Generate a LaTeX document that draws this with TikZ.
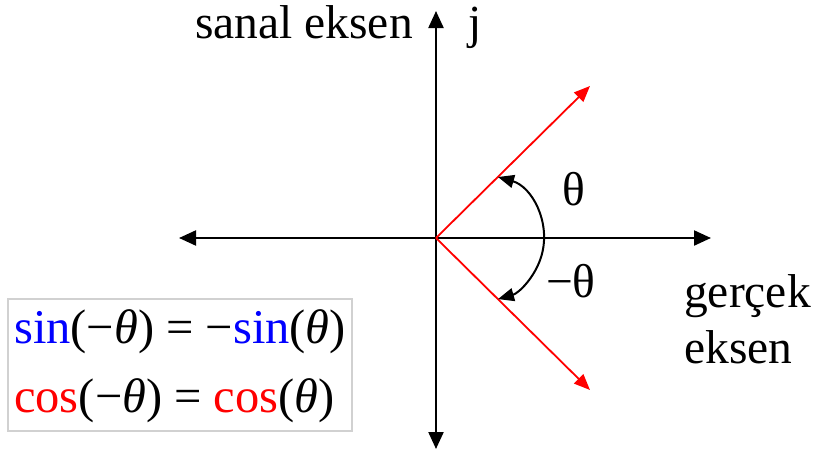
\documentclass[tikz,border=0pt]{standalone}
\usepackage{fontspec}
\setmainfont{Liberation Serif}
\usetikzlibrary{arrows.meta}
\begin{document}
\begin{tikzpicture}[x=1pt,y=-1pt,
  axis/.style={line width=2.2pt,-{Triangle[length=17pt,width=15pt]}},
  vec/.style={red,line width=1.8pt,-{Triangle[length=16pt,width=13pt]}},
  anglearc/.style={line width=2pt,{Triangle[length=16pt,width=13pt]}-{Triangle[length=16pt,width=13pt]}},
  lbl/.style={font=\fontsize{47.5}{56}\selectfont,inner sep=0pt},
  eqtxt/.style={font=\fontsize{48.5}{56}\selectfont,inner sep=0pt},
  eqbox/.style={draw=black!18,line width=1.8pt,minimum width=344pt,minimum height=132pt,inner sep=0pt}]
\useasboundingbox (0,0) rectangle (815,450);
\fill[white] (0,0) rectangle (815,450);
\coordinate (O) at (436,238);
\coordinate (top) at (436,11);
\coordinate (bot) at (436,449);
\coordinate (left) at (179,238);
\coordinate (right) at (711,238);
\coordinate (v1) at (590,86);
\coordinate (v2) at (590,390);
\coordinate (A) at (498,177);
\draw[axis] (O) -- (top);
\draw[axis] (O) -- (bot);
\draw[axis] (O) -- (left);
\draw[axis] (O) -- (right);
\draw[vec] (O) -- (v1);
\draw[vec] (O) -- (v2);
\draw[anglearc] (A) arc[start angle=-74,end angle=74,radius=63.5];
\node[lbl,anchor=base east] (sanal) at (413,38) {sanal eksen};
\node[lbl,anchor=base west] (j) at (468,38) {j};
\node[lbl,anchor=base west] (th) at (562,205) {θ};
\node[lbl,anchor=base west] (mth) at (546,297) {−θ};
\node[lbl,anchor=base west] (ger) at (684,307) {gerçek};
\node[lbl,anchor=base west] (eks) at (684,363) {eksen};
\node[eqbox] (box) at (180,365) {};
\node[eqtxt,anchor=base west] (eq1) at (14,343) {{\color{blue}sin}(−\textit{θ}) = −{\color{blue}sin}(\textit{θ})};
\node[eqtxt,anchor=base west] (eq2) at (14,412) {{\color{red}cos}(−\textit{θ}) = {\color{red}cos}(\textit{θ})};
\end{tikzpicture}
\end{document}
